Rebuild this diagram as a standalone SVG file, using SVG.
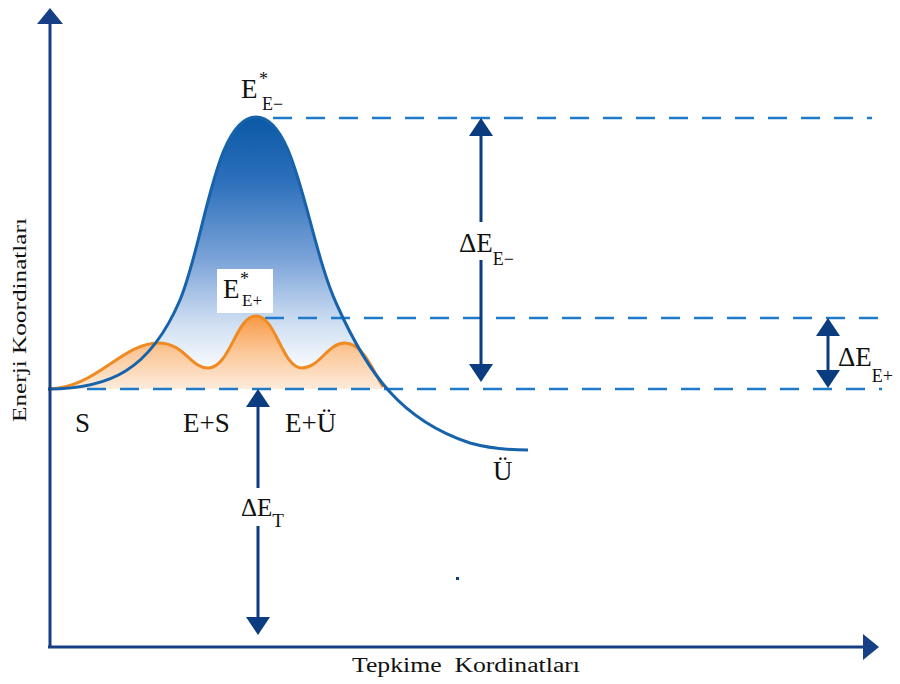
<svg xmlns="http://www.w3.org/2000/svg" width="900" height="684" viewBox="0 0 900 684">
<style>
.lbl{fill:#111;}
.dash{fill:none;stroke:#1f7ac9;stroke-width:2.5;stroke-dasharray:19 14;}
.arr{fill:none;stroke:#0b3c80;stroke-width:3;marker-start:url(#ah);marker-end:url(#ah);}
.axis{fill:none;stroke:#173f86;stroke-width:3;marker-end:url(#axh);}
</style>
<defs>
<linearGradient id="gb" gradientUnits="userSpaceOnUse" x1="0" y1="117" x2="0" y2="375">
<stop offset="0" stop-color="#0b58a6"/>
<stop offset="0.25" stop-color="#2d70bb"/>
<stop offset="0.55" stop-color="#7ba3d8"/>
<stop offset="0.8" stop-color="#cfdff2"/>
<stop offset="1" stop-color="#ffffff"/>
</linearGradient>
<linearGradient id="go" gradientUnits="userSpaceOnUse" x1="0" y1="316" x2="0" y2="389">
<stop offset="0" stop-color="#f89a45"/>
<stop offset="0.5" stop-color="#fbc899"/>
<stop offset="1" stop-color="#fdebdc"/>
</linearGradient>
<clipPath id="clipTop"><rect x="48" y="0" width="500" height="389"/></clipPath>
<marker id="ah" viewBox="0 0 18 24" refX="15" refY="12" markerWidth="18" markerHeight="24" markerUnits="userSpaceOnUse" orient="auto-start-reverse">
<path d="M0,0 L18,12 L0,24 z" fill="#0b3c80"/>
</marker>
<marker id="axh" viewBox="0 0 16 26" refX="13" refY="13" markerWidth="16" markerHeight="26" markerUnits="userSpaceOnUse" orient="auto">
<path d="M0,0 L16,13 L0,26 z" fill="#173f86"/>
</marker>
</defs>

<g id="fills">
<path clip-path="url(#clipTop)" fill="url(#gb)" d="M48,389 C110,389 150,370 180,300 C205,240 215,117 256,117 C297,117 307,240 337,305 C367,372 400,420 470,443 C495,450 515,450 528,450 L528,700 L48,700 Z"/>
<path fill="url(#go)" d="M48,389 C95,389 122,343 158,343 C185,343 190,368 208,368 C230,368 236,316 256,316 C276,316 282,368 302,368 C320,368 327,343 345,343 C362,343 372,368 383,387 L383,389 Z"/>
</g>

<g id="connectors">
<line class="dash" x1="273" y1="118" x2="872" y2="118"/>
<line class="dash" x1="265" y1="318" x2="882" y2="318"/>
<line class="dash" x1="87" y1="389" x2="882" y2="389"/>
<path fill="none" stroke="#f08a22" stroke-width="3" d="M48,389 C95,389 122,343 158,343 C185,343 190,368 208,368 C230,368 236,316 256,316 C276,316 282,368 302,368 C320,368 327,343 345,343 C362,343 372,368 383,387"/>
<path fill="none" stroke="#1763ab" stroke-width="3" d="M48,389 C110,389 150,370 180,300 C205,240 215,117 256,117 C297,117 307,240 337,305 C367,372 400,420 470,443 C495,450 515,450 528,450"/>
<line class="arr" x1="481" y1="121" x2="481" y2="379"/>
<line class="arr" x1="828" y1="321" x2="828" y2="385"/>
<line class="arr" x1="258" y1="392" x2="258" y2="632"/>
<line class="axis" x1="50" y1="648" x2="50" y2="11"/>
<line class="axis" x1="48" y1="647" x2="876" y2="647"/>
<rect x="456" y="577" width="3" height="3" fill="#0b3c80"/>
</g>

<g id="labels" font-family="'Liberation Serif', 'Times New Roman', serif">
<g id="label-EEminus">
<text class="lbl" x="241" y="98" font-size="27">E</text>
<text class="lbl" x="259" y="85" font-size="18">*</text>
<text class="lbl" x="262" y="110" font-size="18">E−</text>
</g>
<g id="label-EEplus">
<rect x="217" y="269" width="56" height="44" fill="#ffffff"/>
<text class="lbl" x="223" y="298" font-size="27">E</text>
<text class="lbl" x="240" y="285" font-size="18">*</text>
<text class="lbl" x="242" y="306" font-size="17">E+</text>
</g>
<g id="label-dEEminus">
<rect x="457" y="222" width="60" height="38" fill="#ffffff"/>
<text class="lbl" x="459" y="252" font-size="27">ΔE<tspan dy="13" font-size="18">E−</tspan></text>
</g>
<g id="label-dEEplus">
<text class="lbl" x="838" y="366" font-size="27">ΔE<tspan dy="16" font-size="18">E+</tspan></text>
</g>
<g id="label-dET">
<rect x="238" y="488" width="56" height="38" fill="#ffffff"/>
<text class="lbl" x="241" y="516" font-size="25">ΔE<tspan dy="11" font-size="19">T</tspan></text>
</g>
<g id="node-S"><text class="lbl" x="75" y="432" font-size="27">S</text></g>
<g id="node-ES"><text class="lbl" x="183" y="432" font-size="27">E+S</text></g>
<g id="node-EU"><text class="lbl" x="285" y="432" font-size="27">E+Ü</text></g>
<g id="node-U"><text class="lbl" x="493" y="480" font-size="27">Ü</text></g>
<g id="axis-labels">
<text class="lbl" transform="translate(26,422) rotate(-90)" x="0" y="0" font-size="19" textLength="204" lengthAdjust="spacingAndGlyphs">Enerji Koordinatları</text>
<text class="lbl" x="352" y="672" font-size="20" textLength="228" lengthAdjust="spacingAndGlyphs" xml:space="preserve">Tepkime  Kordinatları</text>
</g>
</g>
</svg>
